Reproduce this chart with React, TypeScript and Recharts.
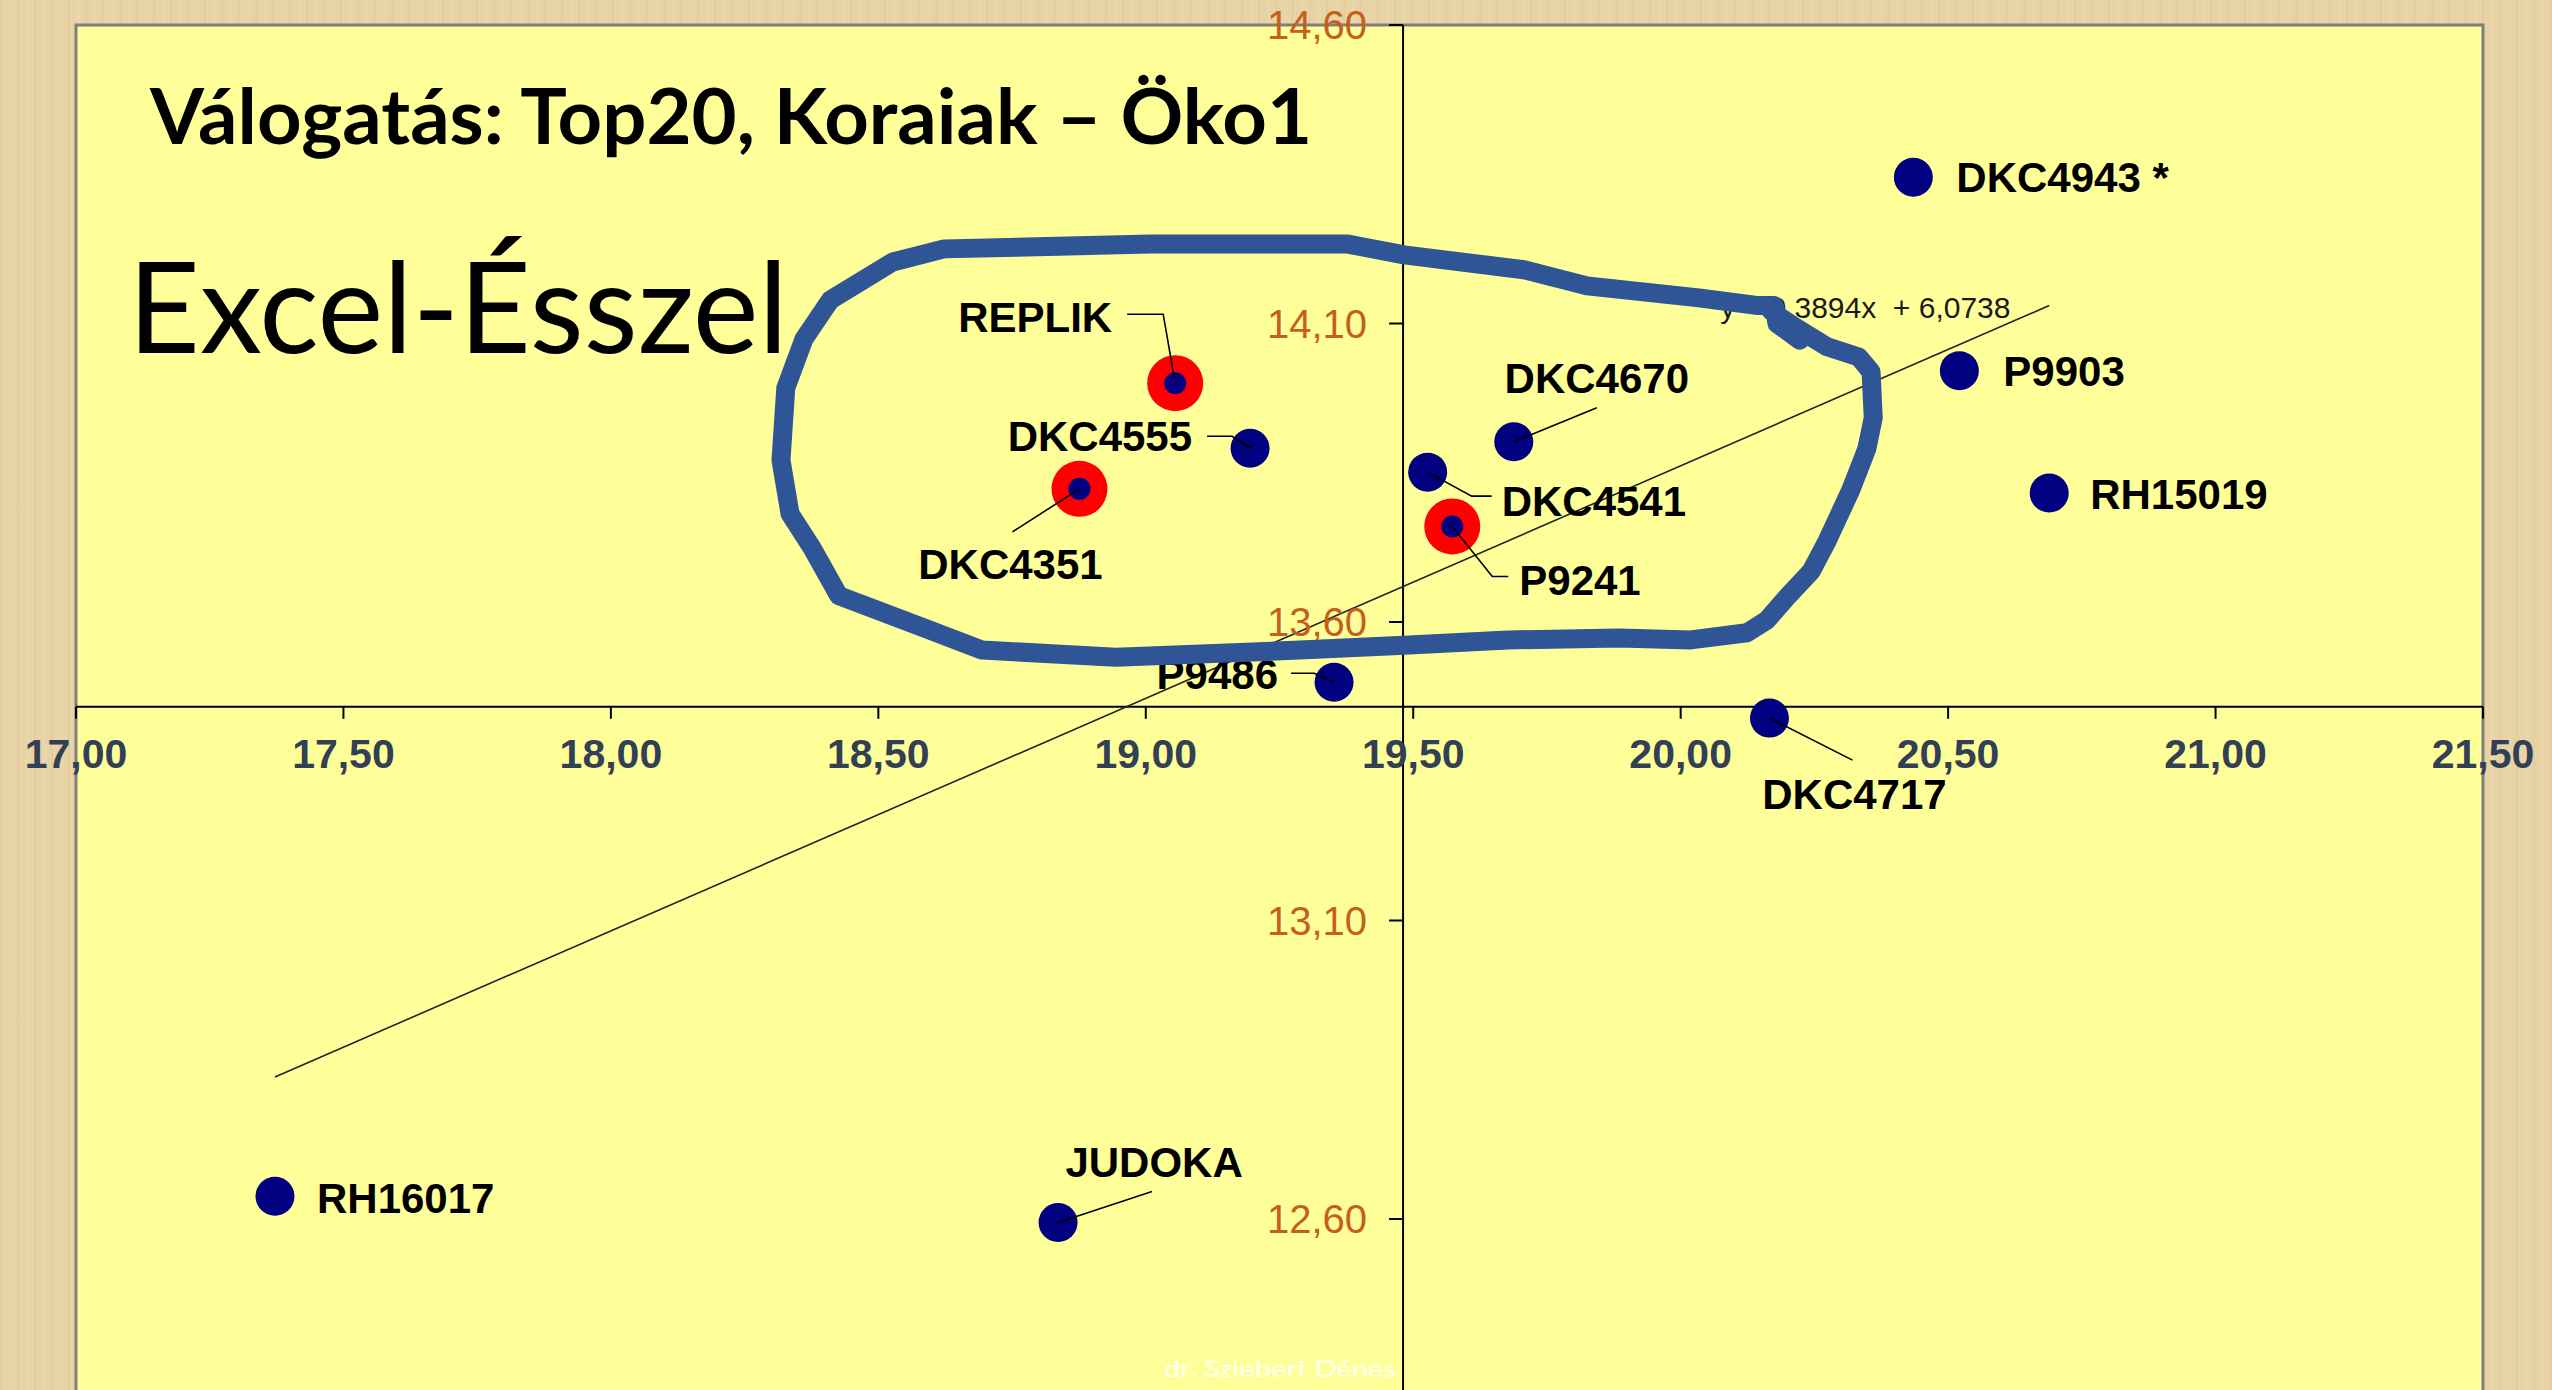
import React from 'react';
import {
  ComposedChart,
  XAxis,
  YAxis,
  Scatter,
  Line,
  ReferenceArea,
  ReferenceLine,
  ReferenceDot,
} from 'recharts';

// ---------- data ----------
const hybrids = [
  'DKC4943 *', 'P9903', 'RH15019', 'DKC4670', 'DKC4541', 'P9241', 'DKC4717',
  'P9486', 'REPLIK', 'DKC4555', 'DKC4351', 'RH16017', 'JUDOKA',
];
const xValues = [20.435, 20.521, 20.689, 19.688, 19.527, 19.573, 20.166, 19.352, 19.055, 19.195, 18.876, 17.372, 18.836];
const yValues = [14.345, 14.021, 13.816, 13.902, 13.851, 13.76, 13.439, 13.499, 14.0, 13.891, 13.823, 12.638, 12.594];
const highlighted = ['REPLIK', 'DKC4351', 'P9241'];

const xTicks = [17, 17.5, 18, 18.5, 19, 19.5, 20, 20.5, 21, 21.5];
const yTicks = [12.6, 13.1, 13.6, 14.1, 14.6];
const xDomain = [17, 21.5];
const yDomain = [12.1, 14.6];
const axisCross = { x: 19.481, y: 13.458 };

const trendX = [17.372, 20.689];
const trendY = [12.838, 14.13];
const trendEquation = 'y = 0,3894x  + 6,0738';
const trendLabelAt = { x: 20.074, y: 14.109 };

// hand-drawn loop annotation (data coordinates)
const loopX = [20.169, 20.214, 20.274, 20.333, 20.356, 20.36, 20.348, 20.318, 20.274, 20.244, 20.199, 20.161, 20.124, 20.019, 19.885, 19.677, 19.483, 19.288, 18.944, 18.694, 18.595, 18.426, 18.376, 18.335, 18.318, 18.327, 18.361, 18.41, 18.527, 18.623, 19.008, 19.378, 19.483, 19.707, 19.825, 20.034, 20.145, 20.175, 20.18, 20.223];
const loopY = [14.121, 14.094, 14.061, 14.044, 14.019, 13.942, 13.89, 13.821, 13.736, 13.685, 13.642, 13.603, 13.582, 13.57, 13.573, 13.57, 13.561, 13.553, 13.541, 13.553, 13.587, 13.644, 13.724, 13.781, 13.871, 13.992, 14.074, 14.139, 14.203, 14.225, 14.233, 14.233, 14.215, 14.19, 14.163, 14.143, 14.13, 14.13, 14.1, 14.072];

const titleText = 'Válogatás: Top20, Koraiak – Öko1';
const subtitleText = 'Excel-Ésszel';
const watermarkText = 'dr. Sziebert Dénes';

// ---------- layout / style ----------
const W = 2552;
const H = 1390;
const CHART_H = 1520;
const MARGIN = { top: 25, right: 69, bottom: 2.5, left: 76 };
const NAVY = '#000080';
const LABEL_FONT = '"Liberation Sans", Arial, sans-serif';

type Placement = { anchor: 'start' | 'middle' | 'end'; dx: number; dy: number; leader?: number[][] };
const placement: Record<string, Placement> = {
  'DKC4943 *': { anchor: 'start', dx: 43, dy: 15 },
  P9903: { anchor: 'start', dx: 44, dy: 15 },
  RH15019: { anchor: 'start', dx: 41, dy: 16 },
  RH16017: { anchor: 'start', dx: 42, dy: 17 },
  DKC4670: { anchor: 'middle', dx: 83, dy: -49, leader: [[0, 0], [83, -34]] },
  DKC4541: { anchor: 'start', dx: 74, dy: 44, leader: [[0, 0], [44, 24], [64, 24]] },
  P9241: { anchor: 'start', dx: 67, dy: 69, leader: [[0, 0], [40, 50], [56, 50]] },
  DKC4717: { anchor: 'middle', dx: 85, dy: 91, leader: [[0, 0], [83, 42]] },
  REPLIK: { anchor: 'end', dx: -63, dy: -51, leader: [[0, 0], [-12, -69], [-48, -69]] },
  DKC4555: { anchor: 'end', dx: -58, dy: 3, leader: [[0, 0], [-18, -12], [-43, -12]] },
  DKC4351: { anchor: 'middle', dx: -69, dy: 90, leader: [[0, 0], [-67, 43]] },
  P9486: { anchor: 'end', dx: -56, dy: 7, leader: [[0, 0], [-20, -9], [-43, -9]] },
  JUDOKA: { anchor: 'middle', dx: 96, dy: -46, leader: [[0, 0], [94, -31]] },
};

const fmt = (v: number) => v.toFixed(2).replace('.', ',');

const points = hybrids.map((name, i) => ({ name, x: xValues[i], y: yValues[i] }));
const trendData = trendX.map((x, i) => ({ x, y: trendY[i] }));
const loopData = loopX.map((x, i) => ({ x, y: loopY[i] }));

const PointShape = (props: any) => {
  const { cx, cy, payload } = props;
  if (cx == null || cy == null) return <g />;
  const p = placement[payload.name];
  const hi = highlighted.includes(payload.name);
  return (
    <g>
      {hi ? (
        <>
          <circle cx={cx} cy={cy} r={28} fill="#FF0000" />
          <circle cx={cx} cy={cy} r={11} fill={NAVY} />
        </>
      ) : (
        <circle cx={cx} cy={cy} r={19.5} fill={NAVY} />
      )}
      {p && p.leader && (
        <polyline
          points={p.leader.map(([a, b]) => `${cx + a},${cy + b}`).join(' ')}
          fill="none"
          stroke="#000"
          strokeWidth={1.6}
        />
      )}
      {p && (
        <text
          x={cx + p.dx}
          y={cy + p.dy}
          textAnchor={p.anchor}
          fontFamily={LABEL_FONT}
          fontWeight={700}
          fontSize={42}
          fill="#000"
        >
          {payload.name}
        </text>
      )}
    </g>
  );
};

const XTickShape = (value: number) => (props: any) => {
  const { cx, cy } = props;
  return (
    <g>
      <line x1={cx} y1={cy} x2={cx} y2={cy + 12} stroke="#000" strokeWidth={2} />
      <text
        x={cx}
        y={cy + 61}
        textAnchor="middle"
        fontFamily={LABEL_FONT}
        fontWeight={700}
        fontSize={41}
        fill="#333F55"
      >
        {fmt(value)}
      </text>
    </g>
  );
};

const YTickShape = (value: number) => (props: any) => {
  const { cx, cy } = props;
  return (
    <g>
      <line x1={cx - 14} y1={cy} x2={cx} y2={cy} stroke="#000" strokeWidth={2} />
      <text
        x={cx - 36}
        y={cy + 14}
        textAnchor="end"
        fontFamily={LABEL_FONT}
        fontSize={40}
        fill="#C65E1C"
      >
        {fmt(value)}
      </text>
    </g>
  );
};

const TrendLabelShape = (props: any) => {
  const { cx, cy } = props;
  return (
    <text
      x={cx}
      y={cy}
      fontFamily={LABEL_FONT}
      fontSize={30}
      fill="#1a1a1a"
      style={{ whiteSpace: 'pre' }}
    >
      {trendEquation}
    </text>
  );
};

const woodBg =
  'repeating-linear-gradient(90deg, rgba(150,110,50,0.06) 0px, rgba(150,110,50,0.06) 2px, rgba(255,255,255,0) 2px, rgba(255,255,255,0) 9px, rgba(255,255,255,0.08) 9px, rgba(255,255,255,0.08) 12px, rgba(255,255,255,0) 12px, rgba(255,255,255,0) 17px),' +
  '#E8D3A5';

export default function App() {
  return (
    <div
      style={{
        position: 'absolute',
        left: 0,
        top: 0,
        width: W,
        height: H,
        overflow: 'hidden',
        background: woodBg,
      }}
    >
      {/* main chart */}
      <div style={{ position: 'absolute', left: 0, top: 0 }}>
        <ComposedChart width={W} height={CHART_H} margin={MARGIN}>
          <XAxis type="number" dataKey="x" domain={xDomain} ticks={xTicks} hide allowDataOverflow />
          <YAxis type="number" dataKey="y" domain={yDomain} ticks={yTicks} hide allowDataOverflow />
          <ReferenceArea
            x1={xDomain[0]}
            x2={xDomain[1]}
            y1={yDomain[0]}
            y2={yDomain[1]}
            fill="#FFFF99"
            fillOpacity={1}
            stroke="#7F7F7F"
            strokeWidth={3}
            ifOverflow="visible"
          />
          <ReferenceLine y={axisCross.y} stroke="#000" strokeWidth={2} ifOverflow="visible" />
          <ReferenceLine x={axisCross.x} stroke="#000" strokeWidth={2} ifOverflow="visible" />
          {xTicks.map((v) => (
            <ReferenceDot key={'xt' + v} x={v} y={axisCross.y} r={0} ifOverflow="visible" shape={XTickShape(v)} />
          ))}
          {yTicks.map((v) => (
            <ReferenceDot key={'yt' + v} x={axisCross.x} y={v} r={0} ifOverflow="visible" shape={YTickShape(v)} />
          ))}
          <Line
            data={trendData}
            dataKey="y"
            type="linear"
            stroke="#222"
            strokeWidth={1.6}
            dot={false}
            activeDot={false}
            isAnimationActive={false}
          />
          <ReferenceDot x={trendLabelAt.x} y={trendLabelAt.y} r={0} ifOverflow="visible" shape={TrendLabelShape} />
          <Scatter data={points} dataKey="y" shape={PointShape} isAnimationActive={false} />
        </ComposedChart>
      </div>

      {/* slide texts */}
      <svg
        width={W}
        height={H}
        style={{ position: 'absolute', left: 0, top: 0, pointerEvents: 'none' }}
      >
        <text
          x={150}
          y={144}
          fontFamily="Lato, 'Open Sans', sans-serif"
          fontWeight={700}
          fontSize={76}
          fill="#000"
          textLength={1162}
          lengthAdjust="spacingAndGlyphs"
        >
          {titleText}
        </text>
        <text
          x={128}
          y={353}
          fontFamily="Lato, 'Open Sans', sans-serif"
          fontSize={127}
          fill="#000"
          textLength={660}
          lengthAdjust="spacingAndGlyphs"
        >
          {subtitleText}
        </text>
        <text
          x={1164}
          y={1377}
          fontFamily="Lato, 'Open Sans', sans-serif"
          fontSize={24}
          fill="#FFFFFF"
          fillOpacity={0.9}
          textLength={232}
          lengthAdjust="spacingAndGlyphs"
        >
          {watermarkText}
        </text>
      </svg>

      {/* hand-drawn loop overlay */}
      <div style={{ position: 'absolute', left: 0, top: 0, pointerEvents: 'none' }}>
        <ComposedChart width={W} height={CHART_H} margin={MARGIN}>
          <XAxis type="number" dataKey="x" domain={xDomain} hide allowDataOverflow />
          <YAxis type="number" dataKey="y" domain={yDomain} hide allowDataOverflow />
          <Line
            data={loopData}
            dataKey="y"
            type="linear"
            stroke="#2F5597"
            strokeWidth={19}
            strokeLinecap="round"
            strokeLinejoin="round"
            dot={false}
            activeDot={false}
            isAnimationActive={false}
          />
        </ComposedChart>
      </div>
    </div>
  );
}
